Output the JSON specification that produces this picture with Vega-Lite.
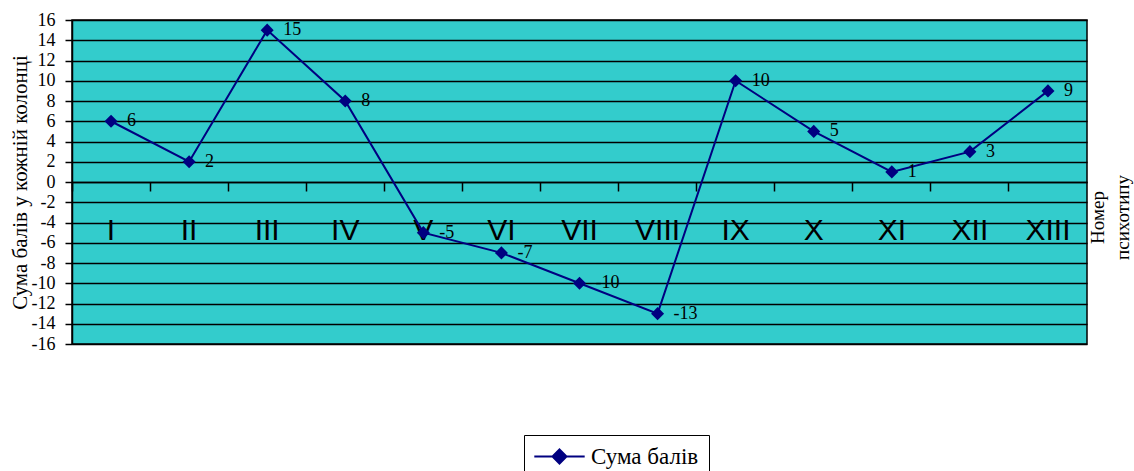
{
  "$schema": "https://vega.github.io/schema/vega-lite/v6.json",
  "autosize": {"type": "none"},
  "width": 1015,
  "height": 324,
  "padding": {"left": 72, "top": 20, "right": 47, "bottom": 127},
  "background": "white",
  "config": {
    "view": {"fill": "#33CCCC", "stroke": "black", "strokeWidth": 1.5},
    "font": "Liberation Serif"
  },
  "data": {
    "values": [
      {"type": "I", "value": 6},
      {"type": "II", "value": 2},
      {"type": "III", "value": 15},
      {"type": "IV", "value": 8},
      {"type": "V", "value": -5},
      {"type": "VI", "value": -7},
      {"type": "VII", "value": -10},
      {"type": "VIII", "value": -13},
      {"type": "IX", "value": 10},
      {"type": "X", "value": 5},
      {"type": "XI", "value": 1},
      {"type": "XII", "value": 3},
      {"type": "XIII", "value": 9}
    ]
  },
  "encoding": {
    "x": {
      "field": "type",
      "type": "ordinal",
      "sort": null,
      "scale": {"type": "band", "paddingInner": 0, "paddingOuter": 0},
      "axis": {
        "title": ["Номер", "психотипу"],
        "offset": -162,
        "bandPosition": 0,
        "grid": false,
        "domainColor": "black",
        "domainWidth": 1.5,
        "tickColor": "black",
        "tickSize": 9,
        "tickWidth": 1.5,
        "labelAngle": 0,
        "labelFont": "Liberation Sans",
        "labelFontSize": 30,
        "labelColor": "black",
        "labelPadding": 24,
        "labelOverlap": false,
        "titleAngle": -90,
        "titleX": 1025,
        "titleY": 35,
        "titleFont": "Liberation Serif",
        "titleFontSize": 19,
        "titleFontWeight": "normal",
        "titleAlign": "center",
        "titleBaseline": "middle",
        "titleLineHeight": 25,
        "titleColor": "black"
      }
    },
    "y": {
      "field": "value",
      "type": "quantitative",
      "scale": {"domain": [-16, 16], "nice": false, "zero": false},
      "axis": {
        "title": "Сума балів у кожній колонці",
        "values": [-16, -14, -12, -10, -8, -6, -4, -2, 0, 2, 4, 6, 8, 10, 12, 14, 16],
        "labelExpr": "replace(datum.label, '−', '-')",
        "grid": true,
        "gridColor": "black",
        "gridWidth": 1.5,
        "gridOpacity": 1,
        "domainColor": "black",
        "domainWidth": 1.5,
        "tickColor": "black",
        "tickSize": 7,
        "tickWidth": 1.5,
        "labelFont": "Liberation Serif",
        "labelFontSize": 18,
        "labelColor": "black",
        "labelPadding": 10,
        "titleX": -52,
        "titleY": 162,
        "titleAngle": -90,
        "titleAlign": "center",
        "titleBaseline": "middle",
        "titleFont": "Liberation Serif",
        "titleFontSize": 21,
        "titleFontWeight": "normal",
        "titleColor": "black"
      }
    }
  },
  "layer": [
    {"mark": {"type": "line", "color": "#000080", "strokeWidth": 2}},
    {
      "mark": {"type": "point", "shape": "diamond", "filled": true, "size": 170, "opacity": 1},
      "encoding": {
        "color": {
          "datum": "Сума балів",
          "scale": {"range": ["#000080"]},
          "legend": {
            "title": null,
            "orient": "none",
            "legendX": 452,
            "legendY": 415,
            "padding": 10,
            "strokeColor": "black",
            "symbolType": "M-3.6,0L3.6,0M0,-1L1,0L0,1L-1,0Z",
            "symbolSize": 196,
            "symbolOffset": 14,
            "symbolFillColor": "#000080",
            "symbolStrokeColor": "#000080",
            "symbolStrokeWidth": 2,
            "labelOffset": 20,
            "labelFont": "Liberation Serif",
            "labelFontSize": 23,
            "labelColor": "black",
            "labelLimit": 300,
            "encode": {"symbols": {"update": {"stroke": {"value": "#000080"}, "strokeWidth": {"value": 2}, "fill": {"value": "#000080"}, "opacity": {"value": 1}}}}
          }
        }
      }
    },
    {
      "mark": {"type": "text", "align": "left", "baseline": "middle", "dx": 16, "fontSize": 18, "font": "Liberation Serif", "color": "black"},
      "encoding": {"text": {"field": "value", "type": "nominal"}}
    }
  ]
}
